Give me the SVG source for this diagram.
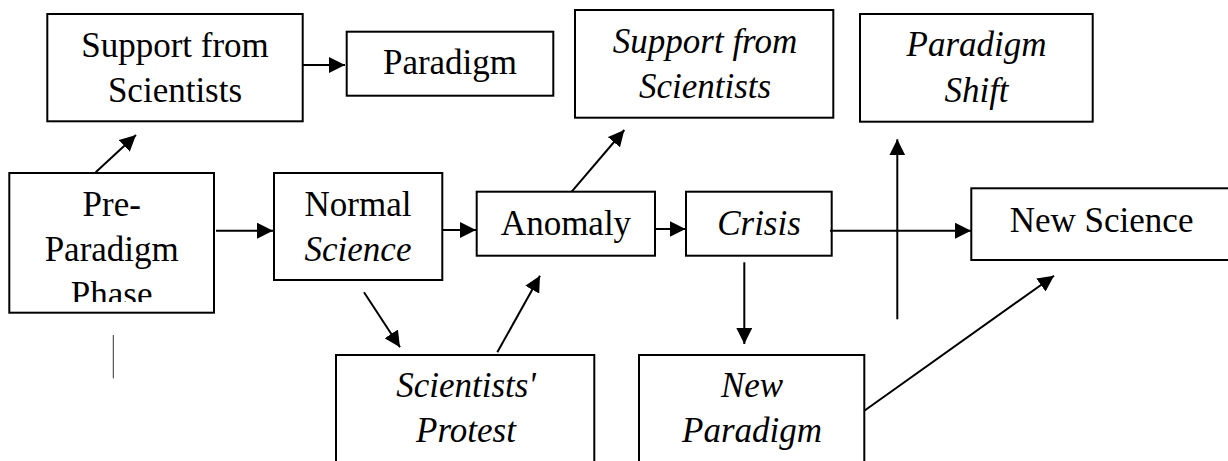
<svg xmlns="http://www.w3.org/2000/svg" width="1228" height="461" viewBox="0 0 1228 461">
<style>
.box{fill:#fff;stroke:#000;stroke-width:2}
.t{font-family:"Liberation Serif","Times New Roman",serif;font-size:35px;fill:#000;text-anchor:middle}
.i{font-style:italic}
.c{fill:none;stroke:#000;stroke-width:2}
</style>
<defs>
<marker id="ah" markerUnits="userSpaceOnUse" markerWidth="17" markerHeight="16" refX="16" refY="8" orient="auto">
<path d="M0,0 L16,8 L0,16 z" fill="#000"/>
</marker>
<clipPath id="preclip"><rect x="9" y="173" width="206" height="129"/></clipPath>
</defs>
<rect width="1228" height="461" fill="#fff"/>
<g id="support1">
<rect class="box" x="47.3" y="14" width="255.4" height="107.3"/>
<text class="t" x="175" y="56.7">Support from</text>
<text class="t" x="175" y="101.7">Scientists</text>
</g>
<g id="paradigm">
<rect class="box" x="346.7" y="31.7" width="206.6" height="64"/>
<text class="t" x="450" y="74">Paradigm</text>
</g>
<g id="support2">
<rect class="box" x="575" y="10" width="258.3" height="107.7"/>
<text class="t i" x="705" y="53.3">Support from</text>
<text class="t i" x="705" y="98.3">Scientists</text>
</g>
<g id="shift">
<rect class="box" x="860" y="14" width="232.7" height="107.7"/>
<text class="t i" x="976.5" y="56">Paradigm</text>
<text class="t i" x="976.5" y="101.7">Shift</text>
</g>
<g id="preparadigm">
<rect class="box" x="9.3" y="173" width="204.7" height="139.7"/>
<g clip-path="url(#preclip)">
<text class="t" x="111.7" y="216">Pre-</text>
<text class="t" x="111.7" y="261">Paradigm</text>
<text class="t" x="111.7" y="306">Phase</text>
</g>
</g>
<g id="normal">
<rect class="box" x="274" y="173" width="168.3" height="107"/>
<text class="t" x="358" y="216">Normal</text>
<text class="t i" x="358" y="261">Science</text>
</g>
<g id="anomaly">
<rect class="box" x="476.7" y="191.7" width="178.3" height="64"/>
<text class="t" x="566" y="235">Anomaly</text>
</g>
<g id="crisis">
<rect class="box" x="686" y="191.7" width="145.7" height="64"/>
<text class="t i" x="759" y="235">Crisis</text>
</g>
<g id="newscience">
<rect class="box" x="971.3" y="188.3" width="270" height="71.7"/>
<text class="t" x="1101.6" y="232">New Science</text>
</g>
<g id="protest">
<rect class="box" x="336" y="355" width="258.3" height="120"/>
<text class="t i" x="466" y="397">Scientists'</text>
<text class="t i" x="466" y="442">Protest</text>
</g>
<g id="newparadigm">
<rect class="box" x="639" y="355" width="225.3" height="120"/>
<text class="t i" x="752" y="397">New</text>
<text class="t i" x="752" y="442">Paradigm</text>
</g>
<g id="connectors">
<line class="c" x1="302.7" y1="65" x2="345" y2="65" marker-end="url(#ah)"/>
<line class="c" x1="95.7" y1="172.3" x2="136" y2="135" marker-end="url(#ah)"/>
<line class="c" x1="216" y1="230.7" x2="273" y2="230.7" marker-end="url(#ah)"/>
<line class="c" x1="443" y1="230" x2="476" y2="230" marker-end="url(#ah)"/>
<line class="c" x1="655" y1="229" x2="685.5" y2="229" marker-end="url(#ah)"/>
<line class="c" x1="830" y1="230.7" x2="971" y2="230.7" marker-end="url(#ah)"/>
<line class="c" x1="571.7" y1="191.7" x2="624.3" y2="130" marker-end="url(#ah)"/>
<line class="c" x1="897.3" y1="319.3" x2="897.3" y2="139.3" marker-end="url(#ah)"/>
<line class="c" x1="364" y1="292.3" x2="400" y2="347.3" marker-end="url(#ah)"/>
<line class="c" x1="497.3" y1="352.3" x2="540" y2="275.7" marker-end="url(#ah)"/>
<line class="c" x1="744.3" y1="262.3" x2="744.3" y2="344" marker-end="url(#ah)"/>
<line class="c" x1="864.3" y1="410.7" x2="1054" y2="275.7" marker-end="url(#ah)"/>
<line x1="113.3" y1="335" x2="113.3" y2="378.3" stroke="#333" stroke-width="1"/>
</g>
</svg>
